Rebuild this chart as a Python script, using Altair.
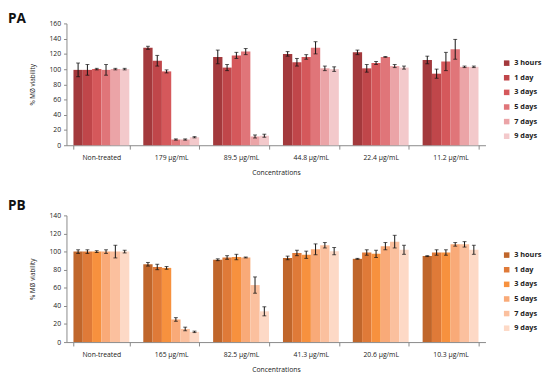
import altair as alt
import pandas as pd

times = ["3 hours", "1 day", "3 days", "5 days", "7 days", "9 days"]

pa_conc = ["Non-treated", "179 µg/mL", "89.5 µg/mL", "44.8 µg/mL", "22.4 µg/mL", "11.2 µg/mL"]
pa_vals = [
    [99, 99, 100, 99, 100, 100],
    [128, 111, 97, 7.5, 7.5, 10.5],
    [116, 102, 118, 123, 11.5, 12.5],
    [120, 109, 116, 128, 101, 100],
    [122, 101, 108, 116, 104, 102],
    [112, 94, 110, 126, 103, 103],
]
pa_errs = [
    [9, 7, 1, 7, 1, 1],
    [2, 7, 2, 0.8, 0.8, 0.8],
    [9, 4, 4, 4, 2, 2],
    [3, 5, 3, 8, 3, 3],
    [3, 5, 2, 0.5, 2, 2],
    [5, 6, 12, 13, 1, 1],
]
pa_colors = ["#A3393C", "#C0464A", "#D5585B", "#E07579", "#EBA4A7", "#F3C9CB"]

pb_conc = ["Non-treated", "165 µg/mL", "82.5 µg/mL", "41.3 µg/mL", "20.6 µg/mL", "10.3 µg/mL"]
pb_vals = [
    [100, 100, 100, 100, 100, 100],
    [86, 83, 82, 25, 14.5, 11.3],
    [91, 93.5, 94, 93.5, 63, 34],
    [93, 98.5, 96.5, 102.5, 107, 100.5],
    [92, 99, 97.5, 106, 111, 102],
    [95, 99, 99, 108, 108, 102],
]
pb_errs = [
    [2, 2, 1, 2, 7, 1.5],
    [2, 3, 1.5, 2, 2, 0.8],
    [1, 2, 3, 0.5, 9, 5],
    [2, 3, 4, 6, 3, 4],
    [0.5, 3, 4, 4, 7, 5],
    [0.5, 3, 3, 2, 3, 5],
]
pb_colors = ["#C0662B", "#DF7A38", "#F7913E", "#F9AA78", "#FBC09E", "#FDD9C6"]

panel_labels = ["PA", "PB"]
pa_ticks = [0, 20, 40, 60, 80, 100, 120, 140, 160]
pb_ticks = [0, 20, 40, 60, 80, 100, 120, 140]

FONT = "Open Sans"


def make_df(conc, vals, errs):
    rows = []
    for c, vr, er in zip(conc, vals, errs):
        for t, v, e in zip(times, vr, er):
            rows.append({"conc": c, "time": t, "val": v, "err": e, "lo": v - e, "hi": v + e})
    return pd.DataFrame(rows)


def panel(conc, vals, errs, colors, label, ticks, height, label_y):
    df = make_df(conc, vals, errs)
    ymax = ticks[-1]
    x = alt.X(
        "conc:N", sort=conc, title="Concentrations",
        scale=alt.Scale(paddingInner=0.2, paddingOuter=0.1),
        axis=alt.Axis(labelAngle=0, tickBand="extent", labelFontSize=7, titleFontSize=7,
                      titleFontWeight="normal", titlePadding=8, labelPadding=5,
                      domainColor="#888888", tickColor="#888888", tickSize=4, titleX=215),
    )
    xo = alt.XOffset("time:N", sort=times, scale=alt.Scale(paddingInner=0, paddingOuter=0))
    yscale = alt.Scale(domain=[0, ymax], nice=False)
    yaxis = alt.Axis(values=ticks, tickCount=len(ticks), grid=False, labelFontSize=7,
                     titleFontSize=6.5, titleFontWeight="normal", titlePadding=14,
                     domainColor="#888888", tickColor="#888888", tickSize=3, labelPadding=3,
                     labelOverlap=False, labelFlush=False)
    ytitle = "% MØ viability"
    bars = alt.Chart(df).mark_bar(stroke=None).encode(
        x=x, xOffset=xo,
        y=alt.Y("val:Q", title=ytitle, scale=yscale, axis=yaxis),
        color=alt.Color("time:N", sort=times, scale=alt.Scale(domain=times, range=colors),
                        legend=alt.Legend(title=None, orient="none", legendX=448, legendY=37,
                                          symbolType="square", symbolSize=32, symbolStrokeWidth=0,
                                          labelFontSize=7.5, labelFontWeight="bold", rowPadding=6,
                                          labelFont=FONT, labelColor="#222222")),
    )
    rules = alt.Chart(df).mark_rule(color="#111111", strokeWidth=1).encode(
        x=x, xOffset=xo, y=alt.Y("lo:Q", title=ytitle, scale=yscale, axis=yaxis), y2="hi:Q"
    )
    caps_lo = alt.Chart(df).mark_tick(color="#111111", size=4, thickness=1).encode(
        x=x, xOffset=xo, y=alt.Y("lo:Q", title=ytitle, scale=yscale, axis=yaxis)
    )
    caps_hi = alt.Chart(df).mark_tick(color="#111111", size=4, thickness=1).encode(
        x=x, xOffset=xo, y=alt.Y("hi:Q", title=ytitle, scale=yscale, axis=yaxis)
    )
    txt = alt.Chart(pd.DataFrame({"t": [label]})).mark_text(
        fontSize=14, fontWeight="bold", font=FONT, align="left", baseline="middle", color="#111111"
    ).encode(text="t:N", x=alt.value(-60), y=alt.value(label_y))
    return alt.layer(bars, rules, caps_lo, caps_hi, txt).properties(width=430, height=height)


top = panel(pa_conc, pa_vals, pa_errs, pa_colors, panel_labels[0], pa_ticks, 125, -4)
bottom = panel(pb_conc, pb_vals, pb_errs, pb_colors, panel_labels[1], pb_ticks, 130, -10)

chart = (
    alt.vconcat(top, bottom, spacing=24)
    .resolve_scale(color="independent", x="independent", y="independent", xOffset="independent")
    .resolve_legend(color="independent")
    .configure(font=FONT, padding=0)
    .configure_view(stroke=None)
    .configure_axis(labelFont=FONT, titleFont=FONT, labelColor="#222222", titleColor="#222222")
)

chart.save("out.html", embed_options={"renderer": "svg", "actions": False})
